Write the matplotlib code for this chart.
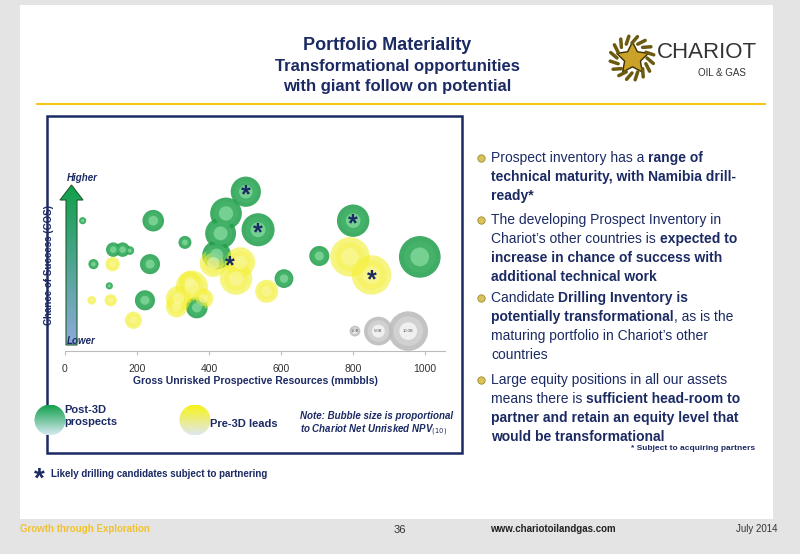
import matplotlib
matplotlib.use("Agg")
import matplotlib.pyplot as plt
import numpy as np
from matplotlib.patches import Rectangle, Polygon, Circle
from matplotlib.transforms import offset_copy

plt.rcParams['font.family'] = ['Liberation Sans', 'DejaVu Sans']

# ---- data ----
green_x = [49, 245, 502, 447, 432, 536, 800, 333, 134, 160, 180, 79, 236, 421, 706, 985, 608, 123, 222, 366]
green_y = [0.72, 0.72, 0.88, 0.76, 0.65, 0.67, 0.72, 0.60, 0.56, 0.56, 0.555, 0.48, 0.48, 0.53, 0.525, 0.52, 0.40, 0.36, 0.28, 0.24]
green_r = [3.3, 10, 14, 14.7, 14.3, 15.3, 15, 6, 6.7, 6.7, 4, 4.7, 9.3, 13.3, 9.3, 19.3, 8.7, 3.3, 9.3, 10]
yellow_x = [132, 74, 127, 190, 486, 412, 475, 560, 352, 347, 315, 310, 384, 791, 851]
yellow_y = [0.48, 0.28, 0.28, 0.17, 0.49, 0.485, 0.40, 0.33, 0.355, 0.38, 0.29, 0.245, 0.29, 0.52, 0.42]
yellow_r = [6.7, 4, 5.7, 8, 14, 12.7, 15, 10.7, 15, 10, 11.7, 10, 9.3, 18.3, 18.3]
scale_x = [805, 870, 953]
scale_y = [0.11, 0.11, 0.11]
scale_r = [5, 13.3, 18.3]
scale_lbl = ["1.0B", "5.0B", "10.0B"]
star_x = [502, 536, 800, 458, 851]
star_y = [0.88, 0.67, 0.72, 0.49, 0.41]
xticks = [0, 200, 400, 600, 800, 1000]

NAVY = "#1b2a63"
W, H = 800, 554
fig = plt.figure(figsize=(8, 5.54), dpi=100)
fig.patch.set_facecolor("#e4e4e4")
bg = fig.add_axes([0, 0, 1, 1])
bg.set_xlim(0, W); bg.set_ylim(H, 0); bg.axis("off")

bg.add_patch(Rectangle((20, 5), 753, 514, facecolor="white", edgecolor="none"))
bg.plot([37, 765], [104, 104], color="#f5c518", lw=1.5)
bg.add_patch(Rectangle((47, 116), 415, 337, facecolor="none", edgecolor=NAVY, lw=1.8))

# title
bg.text(387, 45, "Portfolio Materiality", ha="center", va="center", fontsize=13, weight="bold", color=NAVY)
bg.text(397, 67, "Transformational opportunities", ha="center", va="center", fontsize=12, weight="bold", color=NAVY)
bg.text(397, 87, "with giant follow on potential", ha="center", va="center", fontsize=12, weight="bold", color=NAVY)

# logo
bg.plot([632], [58], marker=(5, 1, 0), ms=24, color="#c9a227", mec="#3a3000")
for a in np.linspace(0, 2*np.pi, 16, endpoint=False):
    bg.plot([632+15*np.cos(a), 632+22*np.cos(a+0.25)], [58+15*np.sin(a), 58+22*np.sin(a+0.25)], color="#6b5a10", lw=2.5, solid_capstyle="round")
bg.text(657, 52, "CHARIOT", ha="left", va="center", fontsize=16, color="#333333")
bg.text(746, 73, "OIL & GAS", ha="right", va="center", fontsize=7, color="#333333")

# chart axes
ax = fig.add_axes([65/W, 1-351/H, 380/W, 181/H])
ax.set_xlim(0, 1055); ax.set_ylim(0, 1)
ax.patch.set_alpha(0)
for s in ["top", "right", "left"]:
    ax.spines[s].set_visible(False)
ax.spines["bottom"].set_color("#bbbbbb")
ax.set_yticks([])
ax.set_xticks(xticks)
ax.set_xticklabels([str(v) for v in xticks], fontsize=7.5, color="#333333")
ax.tick_params(axis="x", length=3, color="#bbbbbb", pad=6)
ax.set_xlabel("Gross Unrisked Prospective Resources (mmbbls)", fontsize=7.5, weight="bold", color=NAVY, labelpad=2)

def bubbles(xs, ys, rs, base, light, alpha):
    rs = np.array(rs) * 1.08
    for k, (f, c) in enumerate([(1.0, base), (0.75, None), (0.45, light)]):
        d = 2 * rs * 0.72 * f
        if c is None:
            c = np.array(matplotlib.colors.to_rgb(base))*0.6 + np.array(matplotlib.colors.to_rgb(light))*0.4
        ax.scatter(xs, ys, s=d**2, color=c, alpha=alpha, edgecolors="none", clip_on=False, zorder=2+k*0.1)

bubbles(green_x, green_y, green_r, "#1f9e4a", "#7fd69a", 0.85)
bubbles(yellow_x, yellow_y, yellow_r, "#f2ee1c", "#fbf9a8", 0.55)
bubbles(scale_x, scale_y, scale_r, "#bdbdbd", "#f4f4f4", 0.9)
for x, y, l, r in zip(scale_x, scale_y, scale_lbl, scale_r):
    ax.text(x, y, l, fontsize=3, ha="center", va="center", color="#555555", zorder=4)
star_tr = offset_copy(ax.transData, fig=fig, x=0, y=-4, units="dots")
for x, y in zip(star_x, star_y):
    ax.text(x, y, "*", fontsize=18, weight="bold", color=NAVY, ha="center", va="center", zorder=5, transform=star_tr)

# COS arrow
grad = np.linspace(0, 1, 256).reshape(-1, 1)
cmap = matplotlib.colors.LinearSegmentedColormap.from_list("g", ["#8fa9dd", "#0fa048"])
im = bg.imshow(grad, extent=(60, 83, 345, 183), origin="lower", cmap=cmap, aspect="auto", zorder=3)
arrow = Polygon([(66, 345), (77, 345), (77, 200), (83, 200), (71.5, 185), (60, 200), (66, 200)], closed=True, facecolor="none", edgecolor="#1d5f2a", lw=0.8, zorder=4)
bg.add_patch(arrow)
im.set_clip_path(arrow)
bg.text(67, 178, "Higher", fontsize=7, style="italic", weight="bold", color=NAVY, va="center")
bg.text(67, 341, "Lower", fontsize=7, style="italic", weight="bold", color=NAVY, va="center")
bg.text(49, 265, "Chance of Success (COS)", rotation=90, fontsize=7, weight="bold", color=NAVY, ha="center", va="center")

# legend in box
for cx, c1, c2 in [(50, "#13a04c", "#d7eaf2"), (195, "#f7f31a", "#dfe8ee")]:
    g = bg.imshow(np.linspace(0, 1, 128).reshape(-1, 1), extent=(cx-20, cx+20, 435, 405), origin="lower",
                  cmap=matplotlib.colors.LinearSegmentedColormap.from_list("l", [c2, c1]), aspect="auto", zorder=3)
    circ = Circle((cx, 420), 15.5, transform=bg.transData, facecolor="none", edgecolor="none")
    bg.add_patch(circ); g.set_clip_path(circ)
bg.text(64, 416, "Post-3D\nprospects", fontsize=8, weight="bold", color=NAVY, va="center", linespacing=1.2)
bg.text(210, 424, "Pre-3D leads", fontsize=8, weight="bold", color=NAVY, va="center")
bg.text(300, 416, "Note: Bubble size is proportional", fontsize=7, weight="bold", style="italic", color=NAVY, va="center")
bg.text(300, 430, r"to Chariot Net Unrisked NPV$_{(10)}$", fontsize=7, weight="bold", style="italic", color=NAVY, va="center")
bg.text(39, 480, "*", fontsize=20, weight="bold", color=NAVY, ha="center", va="center")
bg.text(51, 474, "Likely drilling candidates subject to partnering", fontsize=7, weight="bold", color=NAVY, va="center")

# bullets with mixed bold
fig.canvas.draw()
rend = fig.canvas.get_renderer()
lines = [
    (158, True, [("Prospect inventory has a ", False), ("range of", True)]),
    (177, False, [("technical maturity, with Namibia drill-", True)]),
    (196, False, [("ready*", True)]),
    (220, True, [("The developing Prospect Inventory in", False)]),
    (239, False, [("Chariot\u2019s other countries is ", False), ("expected to", True)]),
    (258, False, [("increase in chance of success with", True)]),
    (277, False, [("additional technical work", True)]),
    (298, True, [("Candidate ", False), ("Drilling Inventory is", True)]),
    (317, False, [("potentially transformational", True), (", as is the", False)]),
    (336, False, [("maturing portfolio in Chariot\u2019s other", False)]),
    (355, False, [("countries", False)]),
    (380, True, [("Large equity positions in all our assets", False)]),
    (399, False, [("means there is ", False), ("sufficient head-room to", True)]),
    (418, False, [("partner and retain an equity level that", True)]),
    (437, False, [("would be transformational", True)]),
]
inv = bg.transData.inverted()
for y, bullet, runs in lines:
    if bullet:
        bg.scatter([481], [y], s=28, color="#d9c25a", edgecolors="#9b8a30", linewidths=0.6, zorder=3)
    x = 491
    for txt, b in runs:
        t = bg.text(x, y, txt, fontsize=10, weight="bold" if b else "normal", color=NAVY, va="center", ha="left")
        bb = t.get_window_extent(renderer=rend)
        x = inv.transform((bb.x1, bb.y0))[0]
bg.text(755, 449, "* Subject to acquiring partners", fontsize=6, weight="bold", color=NAVY, ha="right", va="center")

# footer
bg.text(20, 529, "Growth through Exploration", fontsize=7, weight="bold", color="#f2c12e", va="center")
bg.text(400, 530, "36", fontsize=8, color="#333333", ha="center", va="center")
bg.text(490, 529, "www.chariotoilandgas.com", fontsize=7, weight="bold", color="#222222", va="center")
bg.text(778, 529, "July 2014", fontsize=7, color="#333333", ha="right", va="center")

fig.savefig("out.png", dpi=100, facecolor=fig.get_facecolor())
